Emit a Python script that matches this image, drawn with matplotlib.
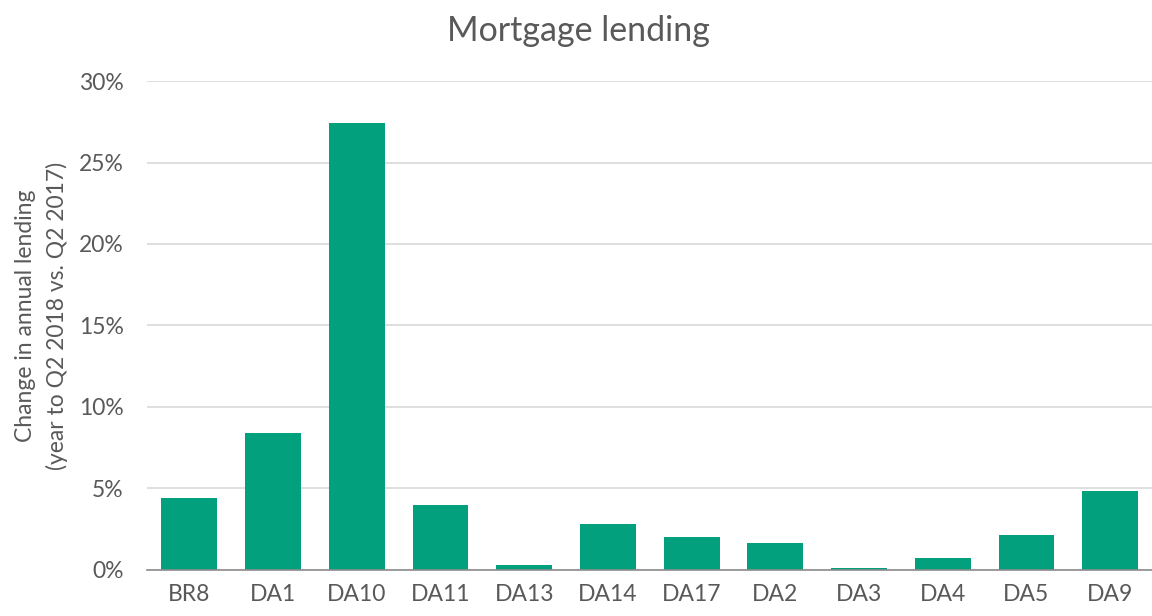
import matplotlib.pyplot as plt
from matplotlib.ticker import PercentFormatter

plt.rcParams["font.family"] = ["Lato", "DejaVu Sans"]

# data
areas = ["BR8", "DA1", "DA10", "DA11", "DA13", "DA14", "DA17", "DA2", "DA3", "DA4", "DA5", "DA9"]
change = [4.4, 8.4, 27.45, 4.0, 0.3, 2.8, 2.05, 1.68, 0.12, 0.76, 2.12, 4.87]
yticks = [0, 5, 10, 15, 20, 25, 30]

text_grey = "#595959"

fig = plt.figure(figsize=(11.52, 6.16), dpi=100)
ax = fig.add_axes([0.128, 0.0747, 0.872, 0.7938])

ax.bar(range(len(areas)), change, width=0.667, color="#03A07D", zorder=3)

ax.set_xlim(-0.5, len(areas) - 0.5)
ax.set_ylim(0, 30)
ax.set_yticks(yticks)
ax.yaxis.set_major_formatter(PercentFormatter(decimals=0))
ax.set_xticks(range(len(areas)))
ax.set_xticklabels(areas)

ax.grid(axis="y", color="#D9D9D9", linewidth=1.2, zorder=0)
for side in ["top", "right", "left"]:
    ax.spines[side].set_visible(False)
ax.spines["bottom"].set_color("#8C8C8C")
ax.spines["bottom"].set_linewidth(1.2)
ax.spines["bottom"].set_zorder(4)

ax.tick_params(axis="both", length=0, labelsize=16.5, labelcolor=text_grey)
ax.tick_params(axis="x", pad=10)
ax.tick_params(axis="y", pad=17)

ax.set_ylabel("Change in annual lending\n(year to Q2 2018 vs. Q2 2017)",
              fontsize=16.5, color=text_grey, linespacing=1.5)
ax.yaxis.set_label_coords(-0.0795, 0.52)
fig.suptitle("Mortgage lending", fontsize=24.5, color=text_grey, x=0.502, y=0.975)

plt.savefig("out.png", dpi=100)
